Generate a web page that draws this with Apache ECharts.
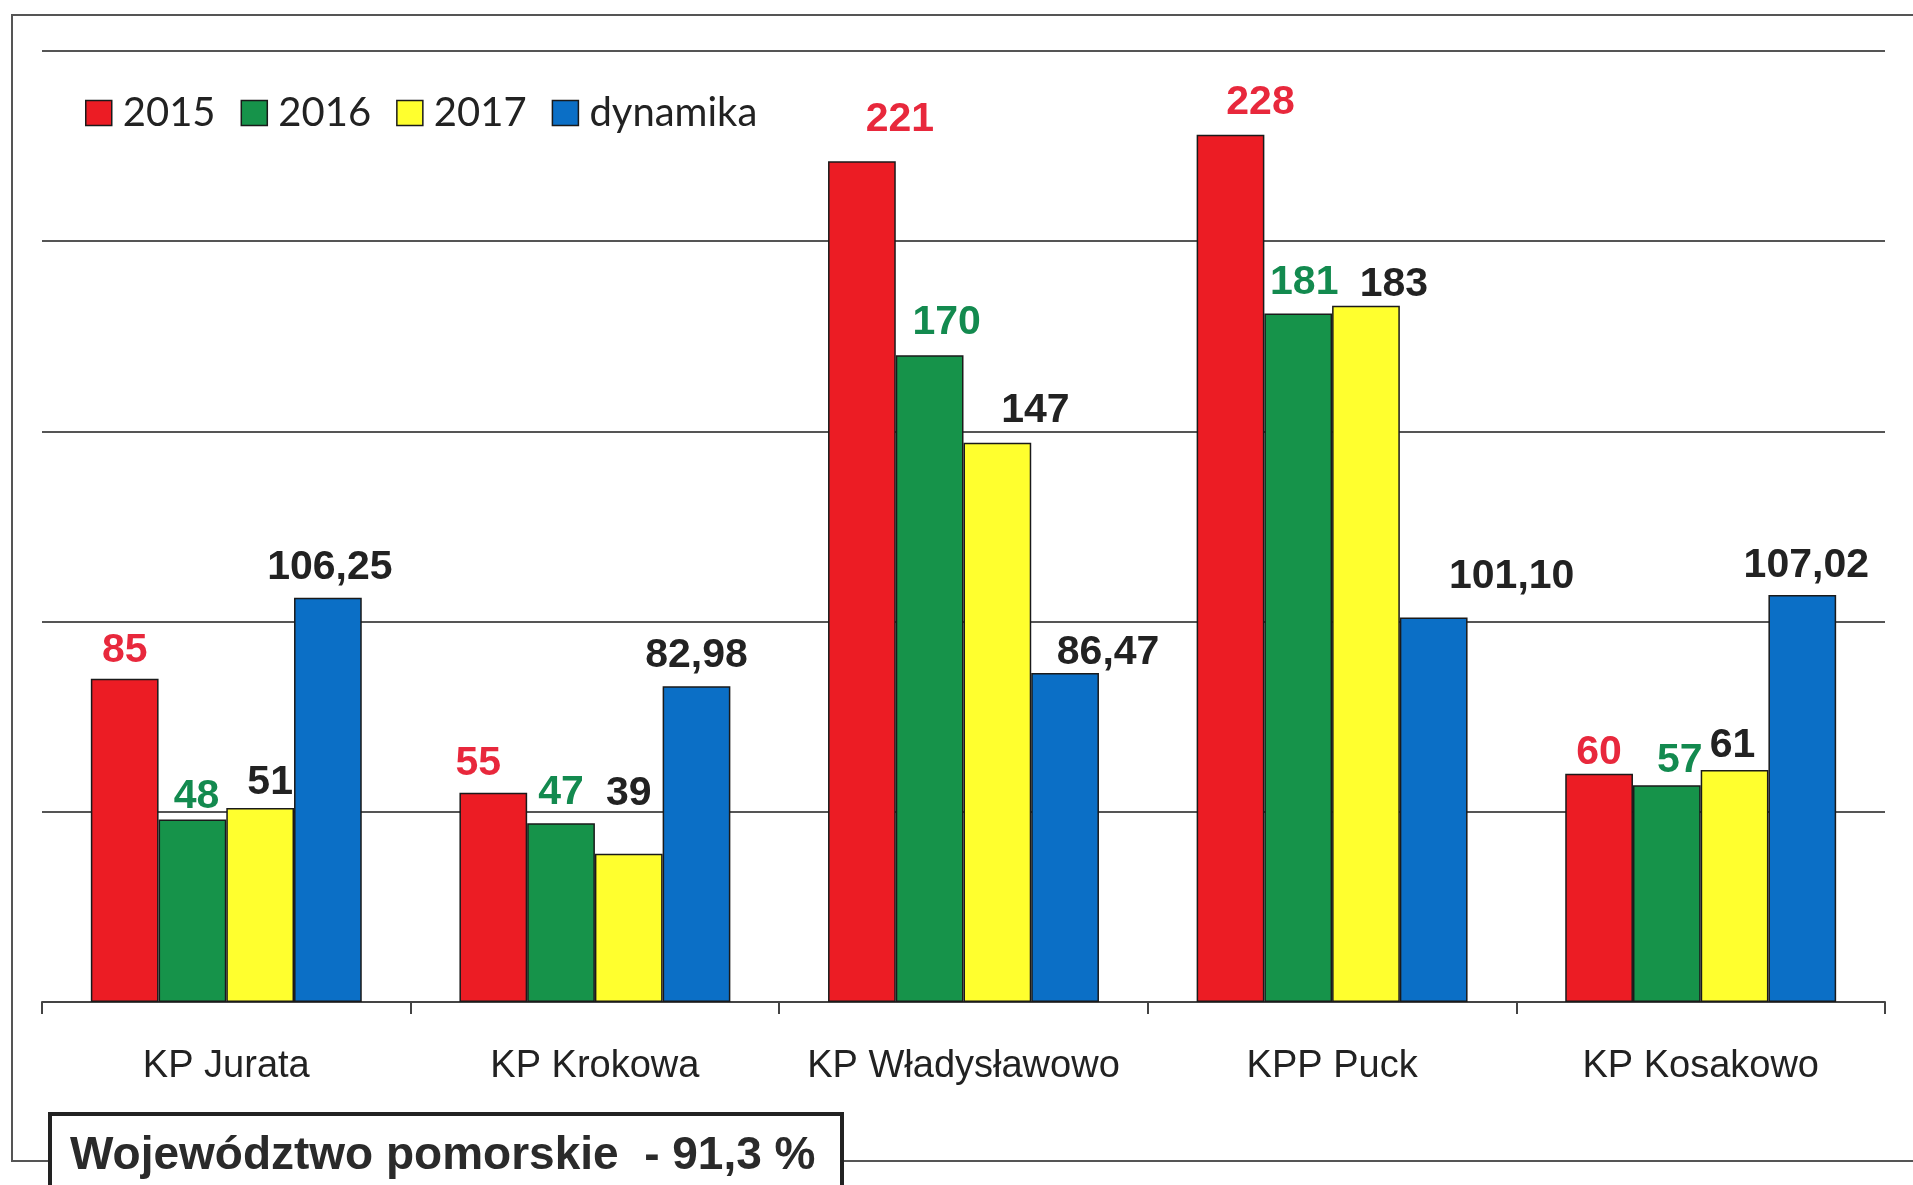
<!DOCTYPE html>
<html>
<head>
<meta charset="utf-8">
<script src="https://cdn.jsdelivr.net/npm/echarts@6/dist/echarts.min.js"></script>
<style>
html,body{margin:0;padding:0;background:#fff;}
#chart{width:1913px;height:1185px;}
</style>
</head>
<body>
<div id="chart"></div>
<script>
// ---- data ----
const categories = ['KP Jurata', 'KP Krokowa', 'KP Władysławowo', 'KPP Puck', 'KP Kosakowo'];
const seriesNames = ['2015', '2016', '2017', 'dynamika'];
const values2015 = [85, 55, 221, 228, 60];
const values2016 = [48, 47, 170, 181, 57];
const values2017 = [51, 39, 147, 183, 61];
const valuesDynamika = [106.25, 82.98, 86.47, 101.10, 107.02];
const yMin = 0, yMax = 250, yStep = 50;
const footnote = 'Województwo pomorskie  - 91,3 %';

// ---- label nudges (styling, px) ----
const labelDx = [[0, -15, 38, 30, 0], [4, 0, 17, 6, 13], [10, 0, 38, 28, -2], [2, 0, 43, 78, 4]];
const labelGap = [[13, 15, 27, 18, 7], [8, 16, 18, 16, 10], [11, 45, 18, 7, 10], [16, 16, 6, 26, 15]];

const barColors = ['#ec1c24', '#16934a', '#ffff2e', '#0b6fc6'];
const labelColors = ['#e8283c', '#138a4f', '#222222', '#222222'];
const allValues = [values2015, values2016, values2017, valuesDynamika];

function fmt(v, s) {
  return s === 3 ? v.toFixed(2).replace('.', ',') : String(v);
}

const series = allValues.map((vals, s) => ({
  name: seriesNames[s],
  type: 'bar',
  barGap: '0%',
  barCategoryGap: '26.5%',
  itemStyle: { color: barColors[s], borderColor: '#1a1a1a', borderWidth: 1.5 },
  label: {
    show: true,
    position: 'top',
    color: labelColors[s],
    fontFamily: '"Liberation Sans", Arial, sans-serif',
    fontWeight: 'bold',
    fontSize: 41,
    lineHeight: 41,
    formatter: p => fmt(p.value, s)
  },
  data: vals.map((v, i) => ({
    value: v,
    label: { distance: Math.max(0, labelGap[s][i] - 6), offset: [labelDx[s][i], 0] }
  }))
}));

const chart = echarts.init(document.getElementById('chart'), null, { renderer: 'canvas' });
chart.setOption({
  animation: false,
  backgroundColor: '#ffffff',
  legend: {
    data: seriesNames,
    left: 80,
    top: 88,
    padding: 5,
    itemWidth: 26,
    itemHeight: 25,
    itemGap: 25,
    icon: 'rect',
    itemStyle: { borderColor: '#1a1a1a', borderWidth: 1.5 },
    textStyle: { fontFamily: 'Lato, "Open Sans", sans-serif', fontSize: 40, lineHeight: 40, color: '#222', padding: [0, 0, 0, 6] }
  },
  grid: { left: 42, right: 28, top: 51, bottom: 183, containLabel: false },
  xAxis: {
    type: 'category',
    data: categories,
    axisLine: { lineStyle: { color: '#444', width: 2 } },
    axisTick: { show: true, interval: 0, length: 12, lineStyle: { color: '#444', width: 2 } },
    axisLabel: {
      interval: 0,
      margin: 46,
      fontFamily: '"Liberation Sans", Arial, sans-serif',
      fontSize: 38,
      lineHeight: 38,
      color: '#222'
    }
  },
  yAxis: {
    type: 'value',
    min: yMin,
    max: yMax,
    interval: yStep,
    axisLine: { show: false },
    axisTick: { show: false },
    axisLabel: { show: false },
    splitLine: { lineStyle: { color: '#555', width: 2 } }
  },
  graphic: [
    {
      type: 'rect',
      z: -10,
      shape: { x: 12, y: 15, width: 2000, height: 1146 },
      style: { fill: null, stroke: '#555', lineWidth: 2 }
    },
    {
      type: 'rect',
      z: 100,
      shape: { x: 50, y: 1114, width: 792, height: 120 },
      style: { fill: '#ffffff', stroke: '#222', lineWidth: 4 }
    },
    {
      type: 'text',
      z: 101,
      style: {
        x: 70,
        y: 1156,
        text: footnote,
        font: 'bold 46px "Liberation Sans", Arial, sans-serif',
        fill: '#2a2a2a',
        textAlign: 'left',
        textVerticalAlign: 'middle'
      }
    }
  ],
  series: series
});
</script>
</body>
</html>
